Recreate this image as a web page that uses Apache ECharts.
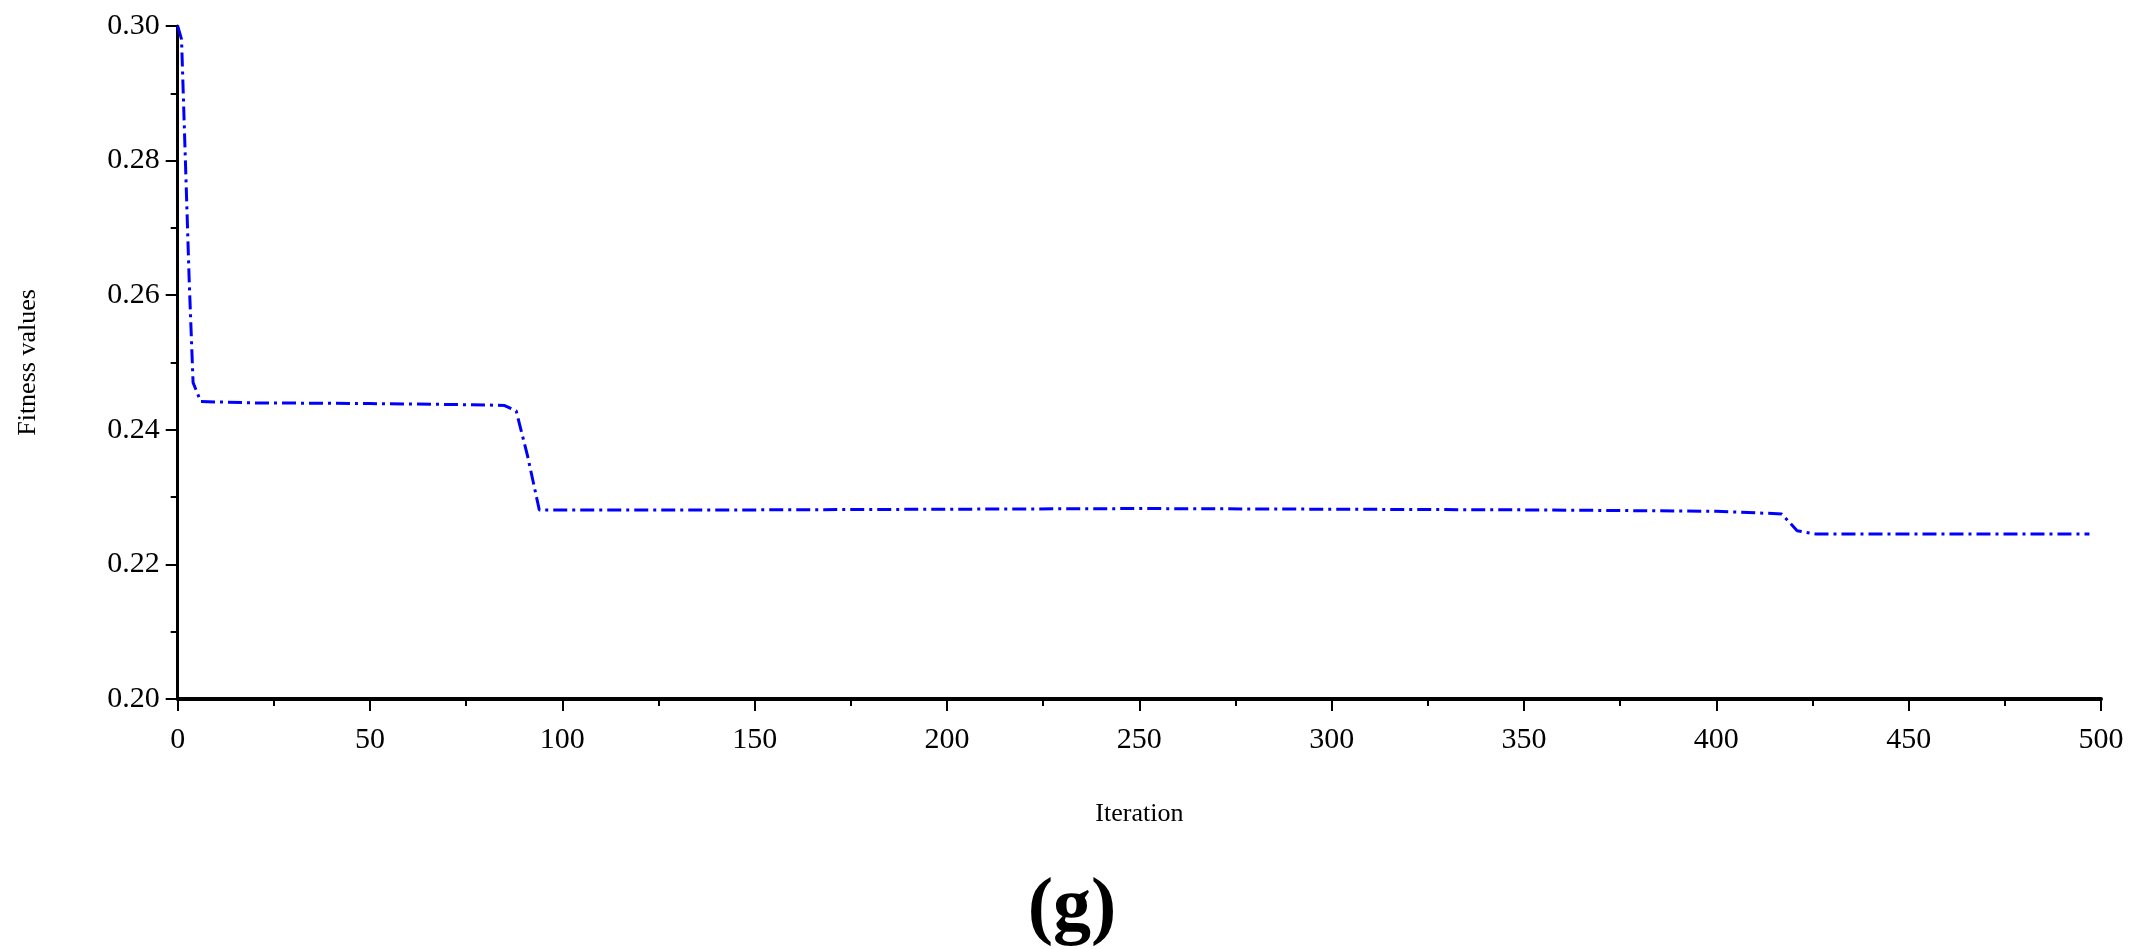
<!doctype html>
<html>
<head>
    <title>Fitness curve</title>
    <script src="https://cdn.jsdelivr.net/npm/echarts@6/dist/echarts.min.js"></script>
</head>
<style>
    html, body { margin: 0; height: 100%; width: 100%; background: #fff; }
    #main { width: 2144px; height: 949px; }
</style>
<body>
<div id="main"></div>
<script>
  var iterations = [0, 1, 2, 3, 4, 6, 20, 50, 80, 85, 88, 91, 94, 120, 150, 200, 250, 300, 350, 400, 417, 421, 426, 460, 497];
  var fitness = [0.300, 0.298, 0.280, 0.262, 0.247, 0.2442, 0.2440, 0.2439, 0.2437, 0.2436, 0.2428, 0.236, 0.2281, 0.2281, 0.2281, 0.2282, 0.2283, 0.2282, 0.2281, 0.2279, 0.2275, 0.2250, 0.2245, 0.2245, 0.2245];
  var xTicks = { min: 0, max: 500, interval: 50 };
  var yTicks = { min: 0.20, max: 0.30, interval: 0.02 };

  var chart = echarts.init(document.getElementById('main'));
  var font = 'Liberation Serif';

  chart.setOption({
    animation: false,
    grid: { left: 163, right: 43, top: 26, bottom: 250 },
    graphic: [{
      type: 'text', left: 'center', top: 850,
      style: { text: '(g)', font: 'bold 76px "Liberation Serif"', fill: '#000' }
    }],
    xAxis: {
      type: 'value', min: xTicks.min, max: xTicks.max, interval: xTicks.interval,
      name: 'Iteration', nameLocation: 'middle', nameGap: 95,
      nameTextStyle: { fontFamily: font, fontSize: 26, color: '#000' },
      axisLine: { lineStyle: { color: '#000', width: 4 } },
      axisTick: { length: 12, lineStyle: { color: '#000', width: 2 } },
      minorTick: { show: true, splitNumber: 2, length: 7, lineStyle: { color: '#000', width: 2 } },
      axisLabel: { fontFamily: font, fontSize: 30, color: '#000', margin: 18 },
      splitLine: { show: false }
    },
    yAxis: {
      type: 'value', min: yTicks.min, max: yTicks.max, interval: yTicks.interval,
      name: 'Fitness values', nameLocation: 'middle', nameGap: 130,
      nameTextStyle: { fontFamily: font, fontSize: 26, color: '#000' },
      axisLine: { show: true, lineStyle: { color: '#000', width: 3 } },
      axisTick: { show: true, length: 12, lineStyle: { color: '#000', width: 2 } },
      minorTick: { show: true, splitNumber: 2, length: 7, lineStyle: { color: '#000', width: 2 } },
      axisLabel: { fontFamily: font, fontSize: 30, color: '#000', margin: 18,
        formatter: function (v) { return v.toFixed(2); } },
      splitLine: { show: false }
    },
    series: [{
      type: 'line',
      data: iterations.map(function (x, i) { return [x, fitness[i]]; }),
      showSymbol: false,
      lineStyle: { color: '#0000ff', width: 3, type: [14, 5, 3, 5] }
    }]
  });
</script>
</body>
</html>
